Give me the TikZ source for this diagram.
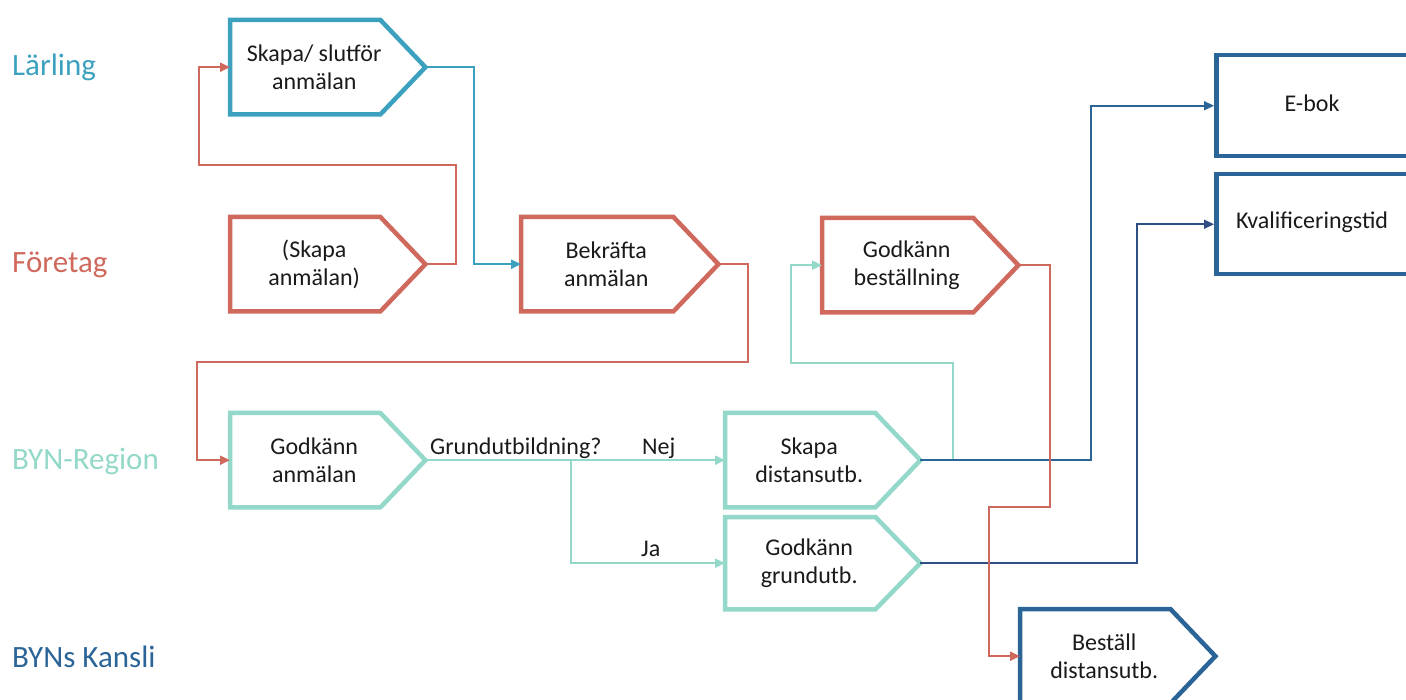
\documentclass[tikz,border=0pt]{standalone}
\usepackage{fontspec}
\setmainfont{Carlito}
\usetikzlibrary{arrows.meta,calc}
\definecolor{larc}{HTML}{3BA1BF}
\definecolor{forc}{HTML}{D0695D}
\definecolor{bync}{HTML}{93D8C8}
\definecolor{kanc}{HTML}{2B6597}
\definecolor{navc}{HTML}{2F4E84}
\definecolor{txtc}{HTML}{1A1A1A}
\tikzset{
  boxline/.style={line width=4.5pt, line join=miter},
  boxtext/.style={inner sep=0pt, align=center, font=\fontsize{24}{28}\selectfont, text=txtc},
  conn/.style={line width=2pt, -{Triangle[length=10pt,width=9pt]}},
  lane/.style={anchor=west, inner sep=0pt, font=\fontsize{31}{35}\selectfont},
  small/.style={inner sep=0pt, font=\fontsize{24}{28}\selectfont, text=txtc}
}
% name, left x, top y, rect width, height, colour, text
\newcommand\pent[7]{%
  \node[boxtext, minimum width=#4pt, minimum height=#5pt, anchor=north west] (#1) at (#2,#3) {};
  \node[boxtext] (#1-t) at ($(#1.center)+(9,0)$) {#7};
  \draw[#6, boxline] (#1.north west) -- (#1.north east) -- ($(#1.east)+(45,0)$) -- (#1.south east) -- (#1.south west) -- cycle;
  \coordinate (#1-tip) at ($(#1.east)+(45,0)$);
}
\begin{document}
\begin{tikzpicture}[x=1pt,y=-1pt]
\useasboundingbox (0,0) rectangle (1406,700);
\clip (0,0) rectangle (1406,700);

% lane labels
\node[lane, text=larc] (lLar) at (12,67) {Lärling};
\node[lane, text=forc] (lFor) at (12,265) {Företag};
\node[lane, text=bync] (lByn) at (12,461) {BYN-Region};
\node[lane, text=kanc] (lKan) at (12,657) {BYNs Kansli};

% boxes
\pent{A}{230}{20}{150}{94}{larc}{Skapa/ slutför\\anmälan}
\pent{B}{230}{217}{150}{94}{forc}{(Skapa\\anmälan)}
\pent{C}{521}{217}{152}{94}{forc}{Bekräfta\\anmälan}
\pent{D}{822}{218}{151}{94}{forc}{Godkänn\\beställning}
\pent{E}{230}{413}{150}{94}{bync}{Godkänn\\anmälan}
\pent{F}{725}{413}{150}{94}{bync}{Skapa\\distansutb.}
\pent{G}{725}{517}{150}{92}{bync}{Godkänn\\grundutb.}
\pent{H}{1020}{609}{150}{94}{kanc}{Beställ\\distansutb.}

\node[boxtext, draw=kanc, boxline, minimum width=200pt, minimum height=101pt, anchor=north west] (I) at (1214,53) {};
\node[boxtext] (I-t) at (1312,103) {E-bok};
\node[boxtext, draw=kanc, boxline, minimum width=200pt, minimum height=100pt, anchor=north west] (J) at (1214,172) {};
\node[boxtext] (J-t) at (1312,222) {Kvalificeringstid};

% connectors
\draw[forc, conn] (B-tip) -- ++(31,0) |- (199,165) |- (A.west);
\draw[larc, conn] (A-tip) -- ++(49,0) |- (C.west);
\draw[forc, conn] (C-tip) -- ++(30,0) |- (197,362) |- (E.west);
\draw[bync, conn] (E-tip) -- coordinate[pos=0.485] (split) (F.west);
\draw[bync, conn] (split) |- (G.west);
\node[small, anchor=base west] (q) at (430,454) {Grundutbildning?};
\node[small, anchor=base west] (nej) at (642,454) {Nej};
\node[small, anchor=base west] (ja) at (641,556) {Ja};
\draw[bync, conn] (F-tip) -- ++(33,0) |- (791,363) |- (D.west);
\draw[kanc, conn] (F-tip) -| ($(I.west)-(123,0)$) -- (I.west);
\draw[navc, conn] (G-tip) -| ($(J.west)-(77,0)$) -- (J.west);
\draw[forc, conn] (D-tip) -- ++(32,0) |- (989,507) |- (H.west);
\end{tikzpicture}
\end{document}
